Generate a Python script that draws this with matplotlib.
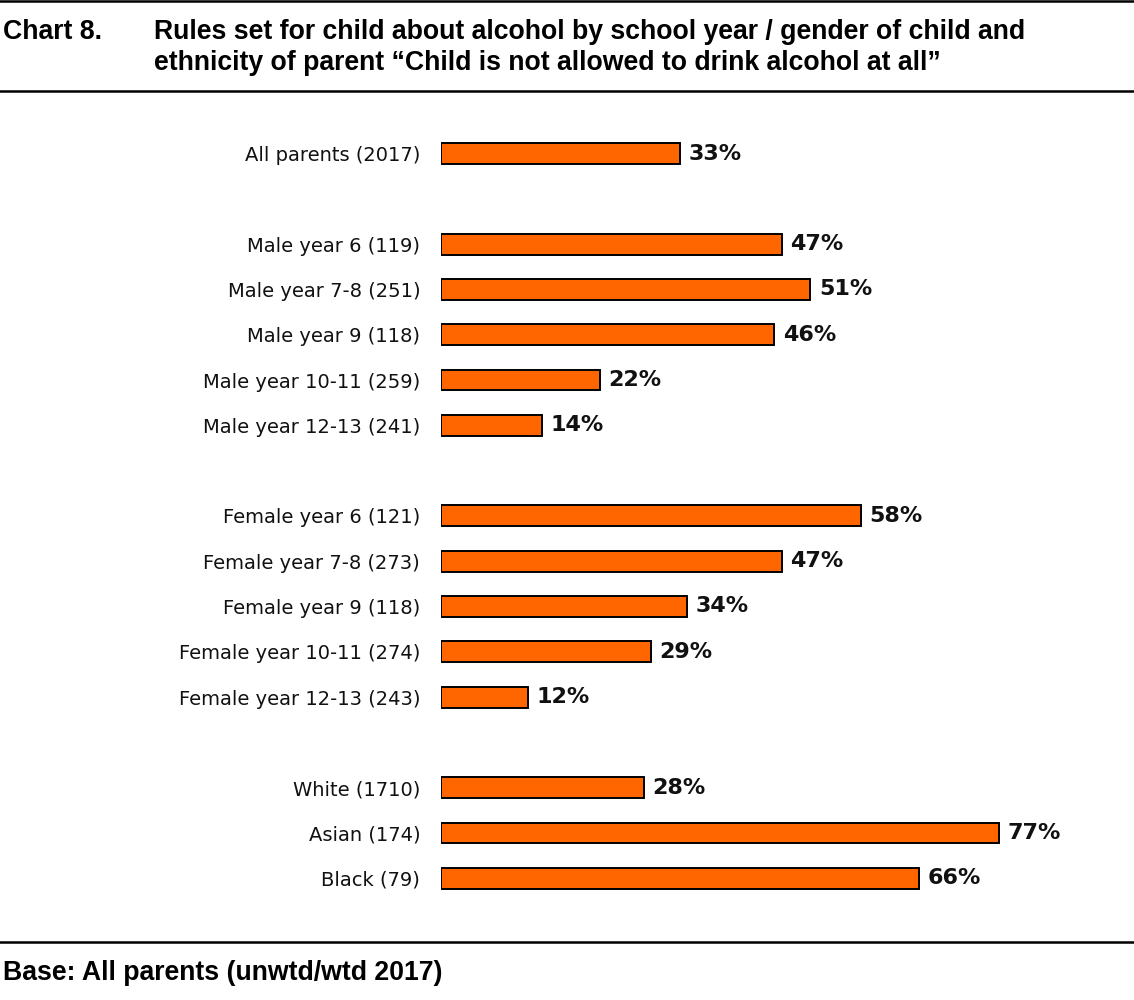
import matplotlib.pyplot as plt
from matplotlib.lines import Line2D

# groups of rows; a blank row separates each group
group_labels = [
    ["All parents (2017)"],
    ["Male year 6 (119)", "Male year 7-8 (251)", "Male year 9 (118)",
     "Male year 10-11 (259)", "Male year 12-13 (241)"],
    ["Female year 6 (121)", "Female year 7-8 (273)", "Female year 9 (118)",
     "Female year 10-11 (274)", "Female year 12-13 (243)"],
    ["White (1710)", "Asian (174)", "Black (79)"],
]
group_values = [
    [33],
    [47, 51, 46, 22, 14],
    [58, 47, 34, 29, 12],
    [28, 77, 66],
]

labels, values, rows = [], [], []
pos = 0
for labs, vals in zip(group_labels, group_values):
    for lab, val in zip(labs, vals):
        labels.append(lab)
        values.append(val)
        rows.append(pos)
        pos += 1
    pos += 1

W, H = 1134, 1000
fig = plt.figure(figsize=(W / 100, H / 100), dpi=100)

# axes: bars start at x=441px, 7.245px per percent; rows 45.3px apart from y=153.5px
px_per_pct = 7.245
row_px = 45.3
top_px = 153.5 - row_px
bot_px = 153.5 + 17 * row_px
ax = fig.add_axes([441 / W, 1 - bot_px / H, (W - 441) / W, (bot_px - top_px) / H])
ax.set_xlim(0, (W - 441) / px_per_pct)
ax.set_ylim(17, -1)

ax.barh(rows, values, height=0.46, color="#FF6600", edgecolor="black", linewidth=1.4)
for r, v in zip(rows, values):
    ax.annotate(f"{v}%", (v, r), xytext=(6, 0), textcoords="offset points",
                ha="left", va="center", fontsize=16, fontweight="bold",
                family="DejaVu Sans", color="#111111")

ax.set_yticks(rows)
ax.set_yticklabels(labels, fontsize=14, family="DejaVu Sans", color="#111111")
ax.tick_params(axis="y", length=0, pad=15)
ax.set_xticks([])
for s in ax.spines.values():
    s.set_visible(False)

# rules and heading
for y in (1, 91, 942):
    fig.add_artist(Line2D([0, 1], [1 - y / H, 1 - y / H], color="black", lw=1.8))

title_font = dict(family="Liberation Sans", fontweight="bold", fontsize=19.2, color="black")
fig.text(3 / W, 1 - 32 / H, "Chart 8.", ha="left", va="center", **title_font)
fig.text(154 / W, 1 - 32 / H,
         "Rules set for child about alcohol by school year / gender of child and",
         ha="left", va="center", **title_font)
fig.text(154 / W, 1 - 63 / H,
         "ethnicity of parent \u201cChild is not allowed to drink alcohol at all\u201d",
         ha="left", va="center", **title_font)
fig.text(3 / W, 1 - 973 / H, "Base: All parents (unwtd/wtd 2017)",
         ha="left", va="center", **title_font)

fig.savefig("out.png", dpi=100, facecolor="white")
